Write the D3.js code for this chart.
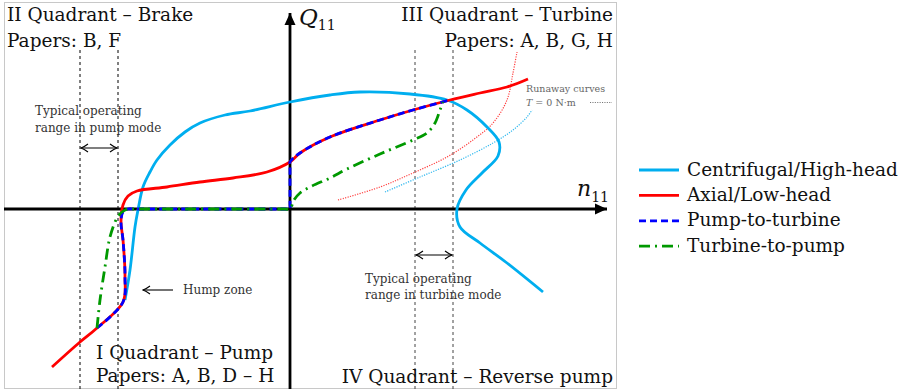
<!DOCTYPE html>
<html>
<head>
<meta charset="utf-8">
<script src="https://cdn.jsdelivr.net/npm/d3@7"></script>
<style>
  body { margin: 0; background: #fff; }
  svg { display: block; font-family: "DejaVu Serif", serif; }
</style>
</head>
<body>
<div id="chart"></div>
<script>
// four-quadrant characteristics, [n11, Q11] pairs
const centrifugal = [
  [-1.65, -0.91], [-1.60, -0.61], [-1.55, -0.18], [-1.52, -0.01], [-1.47, 0.22],
  [-1.40, 0.37], [-1.33, 0.49], [-1.20, 0.64], [-1.05, 0.77], [-0.90, 0.86],
  [-0.65, 0.94], [-0.40, 0.98], [0, 1.07], [0.40, 1.14], [0.70, 1.17],
  [1.20, 1.15], [1.57, 1.09], [1.77, 0.99], [1.97, 0.82], [2.09, 0.67],
  [2.08, 0.53], [1.92, 0.36], [1.76, 0.19], [1.67, 0], [1.70, -0.18],
  [1.90, -0.34], [2.17, -0.54], [2.53, -0.83]
];
const axial = [
  [-2.38, -1.58], [-2.10, -1.33], [-1.93, -1.19], [-1.67, -0.93], [-1.65, -0.68],
  [-1.67, -0.31], [-1.69, -0.13], [-1.67, 0.04], [-1.62, 0.13], [-1.53, 0.18],
  [-1.23, 0.22], [-0.90, 0.27], [-0.57, 0.31], [-0.23, 0.37], [0, 0.47],
  [0.10, 0.56], [0.40, 0.72], [0.90, 0.89], [1.23, 0.99], [1.60, 1.09],
  [1.90, 1.16], [2.17, 1.22], [2.38, 1.30]
];
const pumpToTurbine = [
  [-1.93, -1.19], [-1.67, -0.93], [-1.65, -0.68], [-1.67, -0.31], [-1.69, -0.13],
  [-1.67, -0.03], [-1.62, 0], [-1.55, 0], [-0.05, 0], [0, 0], [0, 0.05],
  [0, 0.42], [0, 0.47], [0.10, 0.56], [0.40, 0.72], [0.90, 0.89], [1.23, 0.99], [1.60, 1.09]
];
const turbineToPump = [
  [-1.93, -1.19], [-1.90, -0.91], [-1.85, -0.58], [-1.80, -0.28], [-1.73, -0.09],
  [-1.68, -0.03], [-1.62, 0], [-1.55, 0], [-0.05, 0], [0, 0], [0.04, 0.09],
  [0.10, 0.16], [0.22, 0.23], [0.40, 0.31], [0.57, 0.40], [0.90, 0.55],
  [1.23, 0.69], [1.37, 0.76], [1.45, 0.86], [1.50, 0.99], [1.53, 1.07]
];
// runaway curves (T = 0)
const runawayAxial = [
  [0.48, 0.09], [0.90, 0.22], [1.23, 0.36], [1.57, 0.52], [1.83, 0.69],
  [2.03, 0.86], [2.17, 1.09], [2.23, 1.36], [2.27, 1.57]
];
const runawayCentrifugal = [
  [0.95, 0.17], [1.30, 0.32], [1.70, 0.49], [2.03, 0.66], [2.23, 0.79],
  [2.37, 0.92], [2.42, 0.99]
];

const legendLabels = ["Centrifugal/High-head", "Axial/Low-head", "Pump-to-turbine", "Turbine-to-pump"];
const pumpRange = [-2.10, -1.72];
const turbineRange = [1.25, 1.63];
const rangeTop = 1.59;
const pumpArrowQ = 0.61;
const turbineArrowQ = -0.46;

const seriesStyles = [
  { data: centrifugal, color: "#00aeef", dash: null },
  { data: axial, color: "#ff0000", dash: null },
  { data: pumpToTurbine, color: "#0000ff", dash: "7,4" },
  { data: turbineToPump, color: "#009900", dash: "11,5,2,5" }
];

const width = 903;
const height = 392;

const svg = d3.select("#chart")
  .append("svg")
  .attr("width", width)
  .attr("height", height);

const xScale = d3.scaleLinear().domain([-2.86, 3.27]).range([4, 617]);
const yScale = d3.scaleLinear().domain([-1.80, 2.07]).range([389, 2]);

const defs = svg.append("defs");
defs.append("marker")
  .attr("id", "solid")
  .attr("viewBox", "-12 -6 12 12")
  .attr("markerUnits", "userSpaceOnUse")
  .attr("markerWidth", 12).attr("markerHeight", 12)
  .attr("orient", "auto")
  .append("path")
  .attr("d", "M-12,-5.5 L0,0 L-12,5.5 Z")
  .attr("fill", "#000");
defs.append("marker")
  .attr("id", "open")
  .attr("viewBox", "-8 -5 9 10")
  .attr("markerUnits", "userSpaceOnUse")
  .attr("markerWidth", 9).attr("markerHeight", 10)
  .attr("orient", "auto-start-reverse")
  .append("path")
  .attr("d", "M-7,-4 Q-3,-1 0,0 Q-3,1 -7,4")
  .attr("fill", "none")
  .attr("stroke", "#000")
  .attr("stroke-width", 1.1);

// frame
svg.append("rect")
  .attr("x", 4.5).attr("y", 2.5)
  .attr("width", 612).attr("height", 386)
  .attr("fill", "none")
  .attr("stroke", "#c8c8c8");

// typical operating ranges
function drawRange(range, arrowQ, color) {
  const g = svg.append("g");
  g.selectAll("line.range")
    .data(range)
    .join("line")
    .attr("class", "range")
    .attr("x1", (d) => xScale(d)).attr("x2", (d) => xScale(d))
    .attr("y1", yScale(rangeTop)).attr("y2", yScale(-1.80))
    .attr("stroke", color)
    .attr("stroke-width", 1)
    .attr("stroke-dasharray", "3,3");
  g.append("line")
    .attr("x1", xScale(range[0]) + 1).attr("x2", xScale(range[1]) - 1)
    .attr("y1", yScale(arrowQ)).attr("y2", yScale(arrowQ))
    .attr("stroke", "#000")
    .attr("stroke-width", 1.1)
    .attr("marker-start", "url(#open)")
    .attr("marker-end", "url(#open)");
}
drawRange(pumpRange, pumpArrowQ, "#000");
drawRange(turbineRange, turbineArrowQ, "#444");

// axes
svg.append("line")
  .attr("x1", xScale(-2.86)).attr("x2", xScale(3.27) - 10)
  .attr("y1", yScale(0)).attr("y2", yScale(0))
  .attr("stroke", "#000").attr("stroke-width", 2.8)
  .attr("marker-end", "url(#solid)");
svg.append("line")
  .attr("x1", xScale(0)).attr("x2", xScale(0))
  .attr("y1", yScale(-1.80)).attr("y2", yScale(2.06) + 10)
  .attr("stroke", "#000").attr("stroke-width", 2.8)
  .attr("marker-end", "url(#solid)");

const line = d3.line()
  .x((d) => xScale(d[0]))
  .y((d) => yScale(d[1]))
  .curve(d3.curveCatmullRom.alpha(0.5));

// runaway curves
svg.append("path")
  .attr("d", line(runawayAxial))
  .attr("fill", "none")
  .attr("stroke", "#ff4040")
  .attr("stroke-width", 1.2)
  .attr("stroke-dasharray", "1.2,1.3");
svg.append("path")
  .attr("d", line(runawayCentrifugal))
  .attr("fill", "none")
  .attr("stroke", "#30b8ee")
  .attr("stroke-width", 1.2)
  .attr("stroke-dasharray", "1.2,1.3");

svg.append("g")
  .selectAll("path")
  .data(seriesStyles)
  .join("path")
  .attr("d", (d) => line(d.data))
  .attr("fill", "none")
  .attr("stroke", (d) => d.color)
  .attr("stroke-width", 2.8)
  .attr("stroke-dasharray", (d) => d.dash);

// quadrant labels
function label(x, y, txt, size, anchor, color) {
  return svg.append("text")
    .attr("x", x).attr("y", y)
    .attr("font-size", size)
    .attr("text-anchor", anchor || "start")
    .attr("fill", color || "#111")
    .text(txt);
}
label(7, 21, "II Quadrant – Brake", 18.5);
label(7, 47, "Papers: B, F", 18.5);
label(613, 21, "III Quadrant – Turbine", 18.5, "end");
label(613, 47, "Papers: A, B, G, H", 18.5, "end");
label(96, 359, "I Quadrant – Pump", 18.5);
label(96, 382, "Papers: A, B, D – H", 18.5);
label(613, 383, "IV Quadrant – Reverse pump", 18.5, "end");

// annotations
label(35, 115, "Typical operating", 12, "start", "#333");
label(35, 132, "range in pump mode", 12, "start", "#333");
label(365, 283, "Typical operating", 12, "start", "#333");
label(365, 299, "range in turbine mode", 12, "start", "#333");
label(183, 294, "Hump zone", 12, "start", "#333");

svg.append("line")
  .attr("x1", 173).attr("x2", 143)
  .attr("y1", 290).attr("y2", 290)
  .attr("stroke", "#000").attr("stroke-width", 1.1)
  .attr("marker-end", "url(#open)");

label(526, 92, "Runaway curves", 9.5, "start", "#666");
const tLabel = label(526, 106, "", 9.5, "start", "#666");
tLabel.append("tspan").attr("font-style", "italic").text("T");
tLabel.append("tspan").text(" = 0 N·m");
svg.append("line")
  .attr("x1", 590).attr("x2", 612)
  .attr("y1", 102.5).attr("y2", 102.5)
  .attr("stroke", "#777").attr("stroke-width", 1.1)
  .attr("stroke-dasharray", "1.1,1.3");

// axis names
const qLabel = label(299, 25, "", 23);
qLabel.append("tspan").attr("font-style", "italic").text("Q");
qLabel.append("tspan").attr("font-size", 14).attr("dy", 5).text("11");
const nLabel = label(577, 196, "", 22);
nLabel.append("tspan").attr("font-style", "italic").text("n");
nLabel.append("tspan").attr("font-size", 14).attr("dy", 6).text("11");

// legend
const legend = svg.append("g")
  .attr("transform", "translate(639,170)");
const rows = legend.selectAll("g")
  .data(seriesStyles)
  .join("g")
  .attr("transform", (d, i) => `translate(0,${i * 25.4})`);
rows.append("line")
  .attr("x1", 0).attr("x2", 40)
  .attr("stroke", (d) => d.color)
  .attr("stroke-width", 2.8)
  .attr("stroke-dasharray", (d) => d.dash);
rows.append("text")
  .attr("x", 48).attr("y", 5.5)
  .attr("font-size", 18.5)
  .attr("fill", "#111")
  .text((d, i) => legendLabels[i]);
</script>
</body>
</html>
